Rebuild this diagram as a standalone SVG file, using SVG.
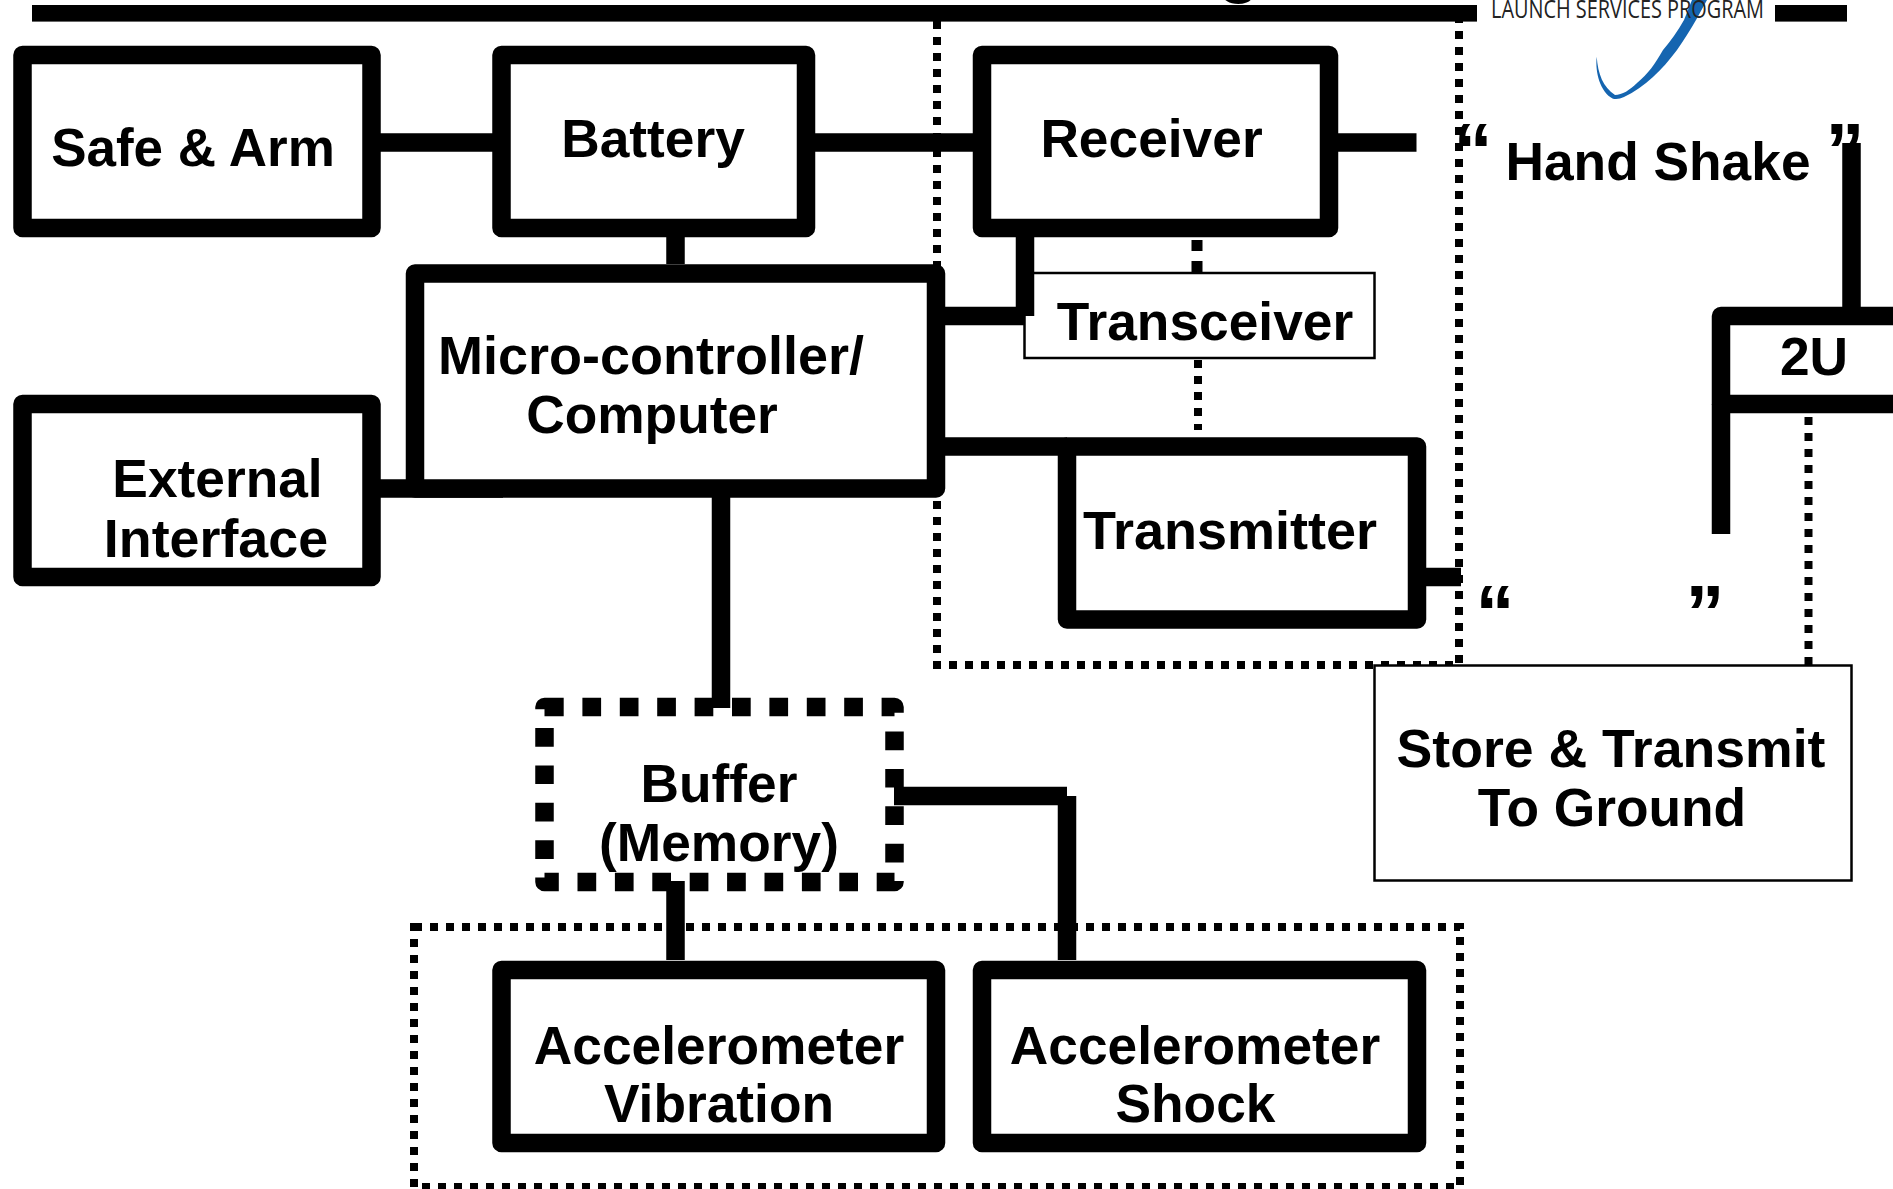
<svg xmlns="http://www.w3.org/2000/svg" width="1893" height="1189" viewBox="0 0 1893 1189">
<style>
text{font-family:"Liberation Sans",Arial,sans-serif;font-weight:700;font-size:53.300px;fill:#000;text-anchor:middle}
.box{fill:#fff;stroke:#000;stroke-width:18.5;stroke-linejoin:round}
.thin{fill:#fff;stroke:#000;stroke-width:2.5}
.ln{fill:none;stroke:#000;stroke-width:18.5}
.d8{fill:none;stroke:#000;stroke-width:8;stroke-dasharray:8 8}
.q{font-size:78px}
</style>
<rect width="1893" height="1189" fill="#fff"/>
<g id="header">
<path d="M1596.700 56.700C1595 72 1600 92 1613 98.700Q1618 100 1624 97C1645 87 1662 70 1677 50Q1688 34 1696 20L1707 0H1692L1684 20Q1675 36 1663 50C1655 64 1648 74 1637 83C1630 90 1622 95 1615 95C1603 87 1598 74 1596.700 56.700Z" fill="#1565b0"/>
<rect x="32" y="5" width="1445" height="16.6"/>
<rect x="1775" y="5" width="72" height="16.6"/>
<text x="1239" y="-13" style="font-size:80px;font-weight:400">g</text>
<text x="1627.500" y="18" textLength="273" lengthAdjust="spacingAndGlyphs" style="font-family:'Open Sans','Liberation Sans',sans-serif;font-size:26px;font-weight:400;fill:#222">LAUNCH SERVICES PROGRAM</text>
</g>
<g id="connectors">
<path class="d8" d="M937 21V665H1459V21"/>
<path class="d8" d="M414 927H1460V1187H414Z"/>
<path class="ln" d="M378 142.500H495M812 142.500H976M1335 142.500H1416.500M675.500 237V264M721 497V708M945 316H1024M945 446.500H1067M380 488.500H503M1426 577H1461M1851.500 143V307M1721 404V534M675.500 881V960M894 796H1067M1067 796V960"/>
<path d="M1197 240V272" fill="none" stroke="#000" stroke-width="11" stroke-dasharray="11 10"/>
<path class="d8" d="M1198 360V430"/>
<path class="d8" d="M1808.500 417V665"/>
</g>
<g id="safe-arm"><rect class="box" x="22.500" y="55" width="349" height="173"/><text x="193" y="166" style="font-size:53px">Safe &amp; Arm</text></g>
<g id="battery"><rect class="box" x="501.500" y="55" width="304.500" height="173"/><text x="653" y="157">Battery</text></g>
<g id="receiver"><rect class="box" x="982" y="55" width="347" height="173"/><text x="1151.500" y="157">Receiver</text></g>
<g id="microcontroller"><rect class="box" x="415" y="273.500" width="521" height="215"/><text x="651" y="374" style="font-size:54px">Micro-controller/</text><text x="652" y="433">Computer</text></g>
<g id="external-interface"><rect class="box" x="22.500" y="404" width="349" height="173"/><text x="217.500" y="497">External</text><text x="216" y="557" style="font-size:53.800px">Interface</text></g>
<g id="transmitter"><rect class="box" x="1067" y="446.500" width="350" height="173"/><text x="1230" y="549" style="font-size:54px">Transmitter</text></g>
<g id="transceiver"><rect class="thin" x="1024.500" y="273" width="350" height="85"/><path class="ln" d="M1025 237V316"/><text x="1205" y="340">Transceiver</text></g>
<g id="two-u"><rect class="box" x="1721" y="316" width="200" height="88"/><text x="1814" y="375">2U</text></g>
<g id="hand-shake"><text x="1658" y="180">Hand Shake</text><text class="q" x="1473" y="178">“</text><text class="q" x="1845" y="178">”</text></g>
<g id="quotes"><text class="q" x="1495" y="640">“</text><text class="q" x="1705" y="640">”</text></g>
<g id="store-transmit"><rect class="thin" x="1374.500" y="665.500" width="477" height="215"/><text x="1611" y="767" style="font-size:53.600px">Store &amp; Transmit</text><text x="1612" y="826">To Ground</text></g>
<g id="buffer"><path d="M545 707H894.500V882H544.500V707H545" fill="none" stroke="#000" stroke-width="18.500" stroke-linejoin="round" stroke-dasharray="18.700 18.700"/><text x="719" y="802">Buffer</text><text x="719" y="861">(Memory)</text></g>
<g id="accel-vibration"><rect class="box" x="501.500" y="970" width="434.500" height="173"/><text x="719" y="1064">Accelerometer</text><text x="719" y="1122">Vibration</text></g>
<g id="accel-shock"><rect class="box" x="982" y="970" width="435" height="173"/><text x="1195" y="1064">Accelerometer</text><text x="1195.500" y="1122">Shock</text></g>
</svg>
